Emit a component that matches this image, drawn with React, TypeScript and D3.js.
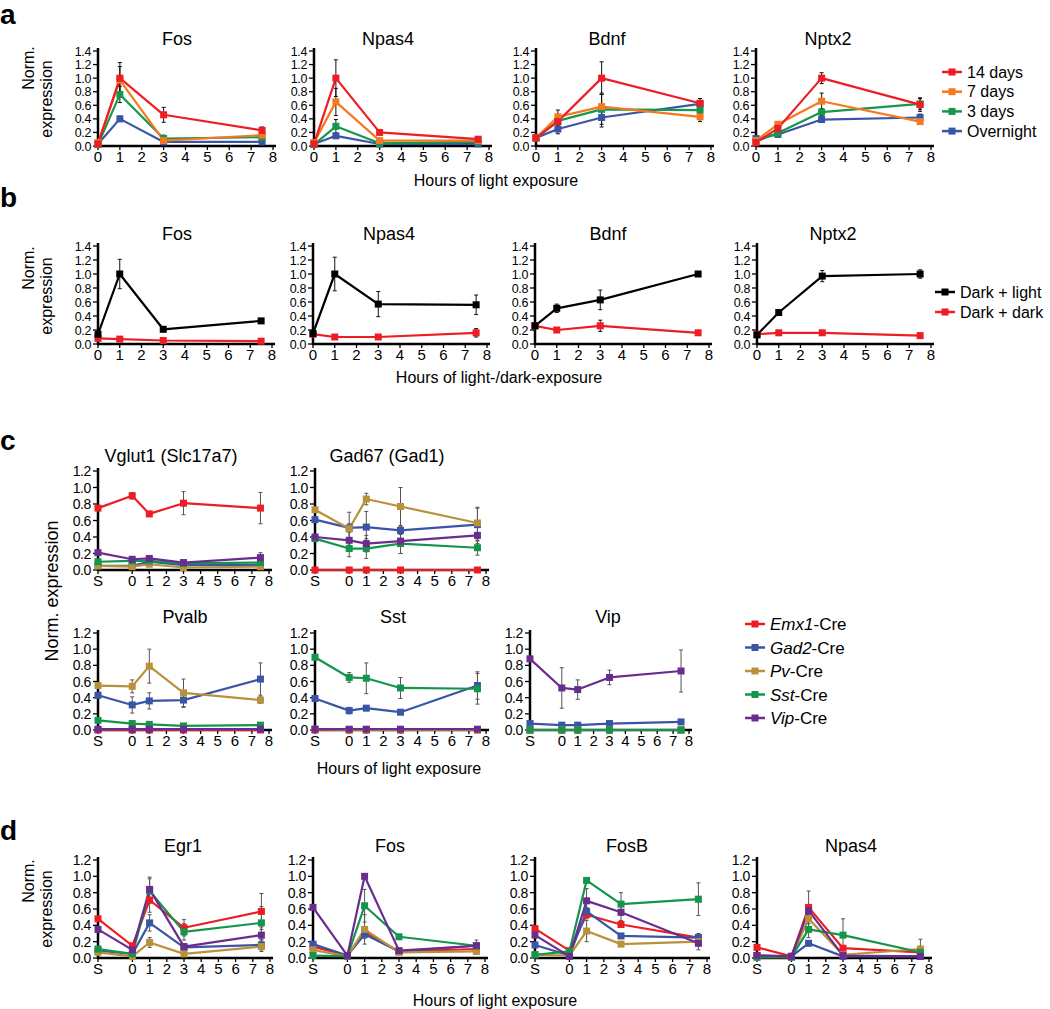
import React from "react";
import * as d3 from "d3";

const FONT = '"Liberation Sans", Arial, Helvetica, sans-serif';

// ---------- Panel a ----------
const hoursAB = [0, 1, 3, 7.5];
const seriesA = ["14 days", "7 days", "3 days", "Overnight"];
const colorsA = ["#ee1d23", "#f47920", "#16974a", "#3a55a5"];
const genesA = ["Fos", "Npas4", "Bdnf", "Nptx2"];
const aFos = [[0.03, 1.0, 0.46, 0.23], [0.05, 0.97, 0.08, 0.16], [0.02, 0.76, 0.11, 0.13], [0.03, 0.4, 0.06, 0.06]];
const aFosErr = [[0.01, 0.23, 0.11, 0.05], [0.01, 0.2, 0.04, 0.03], [0.01, 0.12, 0.05, 0.02], [0.01, 0.04, 0.01, 0.01]];
const aNpas4 = [[0.03, 1.0, 0.2, 0.1], [0.05, 0.65, 0.08, 0.08], [0.02, 0.29, 0.04, 0.06], [0.03, 0.15, 0.03, 0.03]];
const aNpas4Err = [[0.01, 0.27, 0.02, 0.02], [0.01, 0.2, 0.02, 0.02], [0.01, 0.1, 0.01, 0.01], [0.01, 0.03, 0.0, 0.0]];
const aBdnf = [[0.12, 0.36, 1.0, 0.63], [0.12, 0.43, 0.58, 0.43], [0.12, 0.37, 0.54, 0.53], [0.12, 0.25, 0.42, 0.62]];
const aBdnfErr = [[0.03, 0.05, 0.24, 0.07], [0.02, 0.1, 0.2, 0.07], [0.02, 0.06, 0.22, 0.05], [0.02, 0.07, 0.14, 0.05]];
const aNptx2 = [[0.05, 0.26, 1.0, 0.61], [0.08, 0.32, 0.66, 0.36], [0.07, 0.19, 0.5, 0.62], [0.11, 0.17, 0.39, 0.42]];
const aNptx2Err = [[0.03, 0.05, 0.08, 0.1], [0.03, 0.04, 0.12, 0.04], [0.02, 0.03, 0.05, 0.08], [0.02, 0.03, 0.03, 0.05]];

// ---------- Panel b ----------
const seriesB = ["Dark + light", "Dark + dark"];
const colorsB = ["#000000", "#ee1d23"];
const bFos = [[0.14, 1.0, 0.21, 0.33], [0.08, 0.07, 0.05, 0.04]];
const bFosErr = [[0.02, 0.21, 0.03, 0.03], [0.01, 0.01, 0.01, 0.01]];
const bNpas4 = [[0.15, 1.0, 0.57, 0.56], [0.14, 0.1, 0.1, 0.16]];
const bNpas4Err = [[0.02, 0.24, 0.18, 0.14], [0.01, 0.01, 0.01, 0.06]];
const bBdnf = [[0.26, 0.51, 0.63, 1.0], [0.26, 0.2, 0.26, 0.16]];
const bBdnfErr = [[0.03, 0.06, 0.14, 0.03], [0.02, 0.02, 0.08, 0.01]];
const bNptx2 = [[0.13, 0.45, 0.97, 1.0], [0.14, 0.16, 0.16, 0.12]];
const bNptx2Err = [[0.02, 0.03, 0.08, 0.06], [0.01, 0.01, 0.01, 0.01]];

// ---------- Panels c, d ----------
const hoursCD = [-2, 0, 1, 3, 7.5];
const creLines = ["Emx1", "Gad2", "Pv", "Sst", "Vip"];
const colorsCD = ["#ee1d23", "#3a55a5", "#b9913a", "#13954b", "#6a2c8e"];

const cVglut1 = [[0.75, 0.9, 0.68, 0.81, 0.75], [0.05, 0.05, 0.1, 0.06, 0.06], [0.05, 0.04, 0.07, 0.03, 0.04], [0.1, 0.11, 0.11, 0.08, 0.09], [0.21, 0.13, 0.14, 0.09, 0.15]];
const cVglut1Err = [[0.01, 0.04, 0.03, 0.14, 0.19], [0.01, 0.02, 0.02, 0.02, 0.02], [0.01, 0.02, 0.02, 0.01, 0.01], [0.01, 0.02, 0.02, 0.02, 0.02], [0.01, 0.02, 0.03, 0.02, 0.06]];
const cGad67 = [[0, 0, 0, 0, 0], [0.61, 0.51, 0.52, 0.48, 0.55], [0.73, 0.5, 0.86, 0.77, 0.57], [0.38, 0.26, 0.26, 0.32, 0.27], [0.4, 0.36, 0.32, 0.35, 0.42]];
const cGad67Err = [[0, 0, 0, 0, 0], [0.03, 0.05, 0.19, 0.05, 0.2], [0.03, 0.2, 0.07, 0.23, 0.19], [0.02, 0.1, 0.12, 0.12, 0.09], [0.02, 0.1, 0.1, 0.15, 0.1]];
const cPvalb = [[0, 0, 0, 0, 0], [0.43, 0.31, 0.36, 0.37, 0.63], [0.55, 0.54, 0.79, 0.46, 0.37], [0.12, 0.08, 0.07, 0.05, 0.06], [0.01, 0.01, 0.01, 0.01, 0.01]];
const cPvalbErr = [[0, 0, 0, 0, 0], [0.02, 0.1, 0.1, 0.09, 0.2], [0.02, 0.08, 0.21, 0.17, 0.04], [0.01, 0.01, 0.01, 0.01, 0.01], [0, 0, 0, 0, 0]];
const cSst = [[0, 0, 0, 0, 0], [0.39, 0.24, 0.27, 0.22, 0.55], [0.01, 0, 0, 0, 0], [0.9, 0.65, 0.64, 0.52, 0.51], [0.01, 0.01, 0.01, 0.01, 0.01]];
const cSstErr = [[0, 0, 0, 0, 0], [0.02, 0.04, 0.02, 0.02, 0.17], [0, 0, 0, 0, 0], [0.02, 0.06, 0.19, 0.13, 0.19], [0, 0, 0, 0, 0]];
const cVip = [[0, 0, 0, 0, 0], [0.08, 0.06, 0.06, 0.08, 0.1], [0, 0, 0, 0, 0], [0.0, 0.0, 0.0, 0.0, 0.0], [0.88, 0.52, 0.5, 0.65, 0.73]];
const cVipErr = [[0, 0, 0, 0, 0], [0.01, 0.01, 0.01, 0.01, 0.01], [0, 0, 0, 0, 0], [0, 0, 0, 0, 0], [0.02, 0.25, 0.12, 0.09, 0.26]];

const dEgr1 = [[0.48, 0.15, 0.71, 0.37, 0.57], [0.09, 0.05, 0.43, 0.13, 0.16], [0.07, 0.02, 0.19, 0.05, 0.14], [0.11, 0.05, 0.82, 0.32, 0.43], [0.35, 0.1, 0.84, 0.14, 0.28]];
const dEgr1Err = [[0.02, 0.02, 0.15, 0.1, 0.22], [0.01, 0.01, 0.1, 0.03, 0.06], [0.01, 0.01, 0.06, 0.01, 0.06], [0.01, 0.01, 0.15, 0.1, 0.2], [0.01, 0.01, 0.15, 0.03, 0.1]];
const dFos = [[0.14, 0.03, 0.32, 0.08, 0.11], [0.17, 0.03, 0.29, 0.08, 0.15], [0.1, 0.02, 0.35, 0.07, 0.08], [0.03, 0.02, 0.64, 0.26, 0.15], [0.62, 0.03, 1.0, 0.09, 0.15]];
const dFosErr = [[0.01, 0.01, 0.05, 0.01, 0.02], [0.01, 0.01, 0.05, 0.01, 0.02], [0.01, 0.01, 0.18, 0.01, 0.02], [0.01, 0.01, 0.2, 0.02, 0.07], [0.01, 0.01, 0.02, 0.01, 0.02]];
const dFosB = [[0.36, 0.09, 0.53, 0.41, 0.25], [0.16, 0.03, 0.57, 0.27, 0.25], [0.04, 0.03, 0.33, 0.17, 0.2], [0.04, 0.08, 0.95, 0.66, 0.72], [0.28, 0.02, 0.7, 0.56, 0.18]];
const dFosBErr = [[0.01, 0.01, 0.05, 0.03, 0.03], [0.01, 0.01, 0.05, 0.03, 0.05], [0.01, 0.01, 0.13, 0.02, 0.02], [0.01, 0.02, 0.02, 0.14, 0.2], [0.01, 0.01, 0.15, 0.1, 0.08]];
const dNpas4 = [[0.13, 0.02, 0.62, 0.12, 0.07], [0.03, 0.02, 0.18, 0.02, 0.02], [0.01, 0.01, 0.48, 0.04, 0.11], [0.01, 0.01, 0.35, 0.28, 0.07], [0.03, 0.02, 0.58, 0.03, 0.02]];
const dNpas4Err = [[0.01, 0.01, 0.2, 0.02, 0.02], [0.01, 0.01, 0.03, 0.01, 0.01], [0, 0, 0.15, 0.02, 0.12], [0, 0, 0.1, 0.2, 0.02], [0.01, 0.01, 0.05, 0.01, 0.01]];

// ---------- ticks ----------
const yTicks14 = [0, 0.2, 0.4, 0.6, 0.8, 1.0, 1.2, 1.4];
const yTicks12 = [0, 0.2, 0.4, 0.6, 0.8, 1.0, 1.2];
const xTicksAB = [0, 1, 2, 3, 4, 5, 6, 7, 8];
const xTicksCD = [-2, 0, 1, 2, 3, 4, 5, 6, 7, 8];
const xTickLabel = (v: number) => (v === -2 ? "S" : String(v));
const fmtY = d3.format(".1f");

type ChartProps = {
  x0: number;
  width: number;
  yBottom: number;
  yTop: number;
  yMax: number;
  xMin: number;
  xTicks: number[];
  yTicks: number[];
  yTickSize: number;
  title: string;
  titleX: number;
  titleY: number;
  xs: number[];
  values: number[][];
  errors: number[][];
  colors: string[];
  order: number[];
  errColor: string;
};

function Chart(p: ChartProps) {
  const x = d3.scaleLinear().domain([p.xMin, 8]).range([p.x0, p.x0 + p.width]);
  const y = d3.scaleLinear().domain([0, p.yMax]).range([p.yBottom, p.yTop]);
  const line = d3
    .line<number>()
    .x((_, i) => x(p.xs[i]))
    .y((d) => y(d));
  const ms = 7;
  return (
    <g>
      <text x={p.titleX} y={p.titleY} fontSize={18} textAnchor="middle" fill="#000">
        {p.title}
      </text>
      {/* y axis */}
      <line x1={p.x0} x2={p.x0} y1={p.yTop - 3} y2={p.yBottom + 1} stroke="#000" strokeWidth={2.5} />
      {p.yTicks.map((t) => (
        <g key={"yt" + t}>
          <line x1={p.x0 - 5} x2={p.x0} y1={y(t)} y2={y(t)} stroke="#000" strokeWidth={1.3} />
          <text x={p.x0 - 7} y={y(t)} dy="0.36em" fontSize={p.yTickSize} letterSpacing={-0.4} textAnchor="end" fill="#000">
            {fmtY(t)}
          </text>
        </g>
      ))}
      {/* x axis */}
      <line x1={p.x0 - 1} x2={x(8) + 3} y1={p.yBottom} y2={p.yBottom} stroke="#000" strokeWidth={2.5} />
      {p.xTicks.map((t) => (
        <g key={"xt" + t}>
          <line x1={x(t)} x2={x(t)} y1={p.yBottom} y2={p.yBottom + 4} stroke="#000" strokeWidth={1.3} />
          <text x={x(t)} y={p.yBottom + 16} fontSize={15} textAnchor="middle" fill="#000">
            {xTickLabel(t)}
          </text>
        </g>
      ))}
      {/* series lines */}
      {p.order.map((si) => (
        <path key={"l" + si} d={line(p.values[si]) || ""} fill="none" stroke={p.colors[si]} strokeWidth={2.2} strokeLinejoin="round" />
      ))}
      {/* error bars */}
      {p.order.map((si) =>
        p.values[si].map((v, i) => {
          const e = p.errors[si][i];
          if (!e || e < 0.015) return null;
          const cx = x(p.xs[i]);
          return (
            <g key={"e" + si + "-" + i} stroke={p.errColor} strokeWidth={1}>
              <line x1={cx} x2={cx} y1={y(v + e)} y2={y(Math.max(0, v - e))} />
              <line x1={cx - 2} x2={cx + 2} y1={y(v + e)} y2={y(v + e)} />
              <line x1={cx - 2} x2={cx + 2} y1={y(Math.max(0, v - e))} y2={y(Math.max(0, v - e))} />
            </g>
          );
        })
      )}
      {/* markers */}
      {p.order.map((si) =>
        p.values[si].map((v, i) => (
          <rect key={"m" + si + "-" + i} x={x(p.xs[i]) - ms / 2} y={y(v) - ms / 2} width={ms} height={ms} fill={p.colors[si]} />
        ))
      )}
    </g>
  );
}

function LegendRow({ x, y, color, children, fontSize }: { x: number; y: number; color: string; children: React.ReactNode; fontSize: number }) {
  return (
    <g>
      <line x1={x} x2={x + 20} y1={y} y2={y} stroke={color} strokeWidth={2.5} />
      <rect x={x + 6.5} y={y - 3.5} width={7} height={7} fill={color} />
      <text x={x + 25} y={y} dy="0.36em" fontSize={fontSize} fill="#000">
        {children}
      </text>
    </g>
  );
}

const panelA = [
  { x0: 98, tx: 177, vals: aFos, errs: aFosErr },
  { x0: 314, tx: 388, vals: aNpas4, errs: aNpas4Err },
  { x0: 536, tx: 607, vals: aBdnf, errs: aBdnfErr },
  { x0: 756, tx: 828, vals: aNptx2, errs: aNptx2Err },
];
const panelB = [
  { x0: 98, tx: 177, vals: bFos, errs: bFosErr },
  { x0: 313, tx: 389, vals: bNpas4, errs: bNpas4Err },
  { x0: 535, tx: 608, vals: bBdnf, errs: bBdnfErr },
  { x0: 757, tx: 833, vals: bNptx2, errs: bNptx2Err },
];
const panelCTop = [
  { x0: 98, w: 171, tx: 171, title: "Vglut1 (Slc17a7)", vals: cVglut1, errs: cVglut1Err },
  { x0: 315, w: 171, tx: 387, title: "Gad67 (Gad1)", vals: cGad67, errs: cGad67Err },
];
const panelCBottom = [
  { x0: 98, w: 171, tx: 185, title: "Pvalb", vals: cPvalb, errs: cPvalbErr },
  { x0: 315, w: 171, tx: 393, title: "Sst", vals: cSst, errs: cSstErr },
  { x0: 530, w: 159, tx: 608, title: "Vip", vals: cVip, errs: cVipErr },
];
const genesD = ["Egr1", "Fos", "FosB", "Npas4"];
const panelD = [
  { x0: 98, tx: 183, vals: dEgr1, errs: dEgr1Err },
  { x0: 313, tx: 390, vals: dFos, errs: dFosErr },
  { x0: 535, tx: 627, vals: dFosB, errs: dFosBErr },
  { x0: 757, tx: 851, vals: dNpas4, errs: dNpas4Err },
];

export default function App() {
  const orderA = [3, 2, 1, 0];
  const orderB = [1, 0];
  const orderCD = [0, 1, 2, 3, 4];
  return (
    <svg
      width={1050}
      height={1009}
      style={{ position: "absolute", left: 0, top: 0, background: "#fff" }}
      fontFamily={FONT}
    >
      <rect x={0} y={0} width={1050} height={1009} fill="#fff" />
      {/* panel letters */}
      <text x={0} y={24} fontSize={28} fontWeight="bold">a</text>
      <text x={0} y={207} fontSize={28} fontWeight="bold">b</text>
      <text x={0} y={450} fontSize={28} fontWeight="bold">c</text>
      <text x={0} y={840} fontSize={28} fontWeight="bold">d</text>

      {/* ---- panel a ---- */}
      <text transform="translate(28,68) rotate(-90)" fontSize={16} textAnchor="middle" dy="0.36em">Norm.</text>
      <text transform="translate(46,99) rotate(-90)" fontSize={16} textAnchor="middle" dy="0.36em">expression</text>
      {panelA.map((c, i) => (
        <Chart
          key={"a" + i}
          x0={c.x0}
          width={175}
          yBottom={146}
          yTop={51}
          yMax={1.4}
          xMin={0}
          xTicks={xTicksAB}
          yTicks={yTicks14}
          yTickSize={12.5}
          title={genesA[i]}
          titleX={c.tx}
          titleY={45}
          xs={hoursAB}
          values={c.vals}
          errors={c.errs}
          colors={colorsA}
          order={orderA}
          errColor="#111"
        />
      ))}
      <text x={496} y={186} fontSize={16} textAnchor="middle">Hours of light exposure</text>
      {seriesA.map((s, i) => (
        <LegendRow key={s} x={942} y={72 + i * 19.7} color={colorsA[i]} fontSize={16}>
          {s}
        </LegendRow>
      ))}

      {/* ---- panel b ---- */}
      <text transform="translate(28,268) rotate(-90)" fontSize={16} textAnchor="middle" dy="0.36em">Norm.</text>
      <text transform="translate(46,296) rotate(-90)" fontSize={16} textAnchor="middle" dy="0.36em">expression</text>
      {panelB.map((c, i) => (
        <Chart
          key={"b" + i}
          x0={c.x0}
          width={174}
          yBottom={344}
          yTop={246}
          yMax={1.4}
          xMin={0}
          xTicks={xTicksAB}
          yTicks={yTicks14}
          yTickSize={12.5}
          title={genesA[i]}
          titleX={c.tx}
          titleY={240}
          xs={hoursAB}
          values={c.vals}
          errors={c.errs}
          colors={colorsB}
          order={orderB}
          errColor="#111"
        />
      ))}
      <text x={499} y={383} fontSize={16} textAnchor="middle">Hours of light-/dark-exposure</text>
      {seriesB.map((s, i) => (
        <LegendRow key={s} x={935} y={292 + i * 20} color={colorsB[i]} fontSize={16}>
          {s}
        </LegendRow>
      ))}

      {/* ---- panel c ---- */}
      <text transform="translate(52,591) rotate(-90)" fontSize={18} textAnchor="middle" dy="0.36em">Norm. expression</text>
      {panelCTop.map((c, i) => (
        <Chart
          key={"ct" + i}
          x0={c.x0}
          width={c.w}
          yBottom={570}
          yTop={471}
          yMax={1.2}
          xMin={-2}
          xTicks={xTicksCD}
          yTicks={yTicks12}
          yTickSize={14}
          title={c.title}
          titleX={c.tx}
          titleY={462}
          xs={hoursCD}
          values={c.vals}
          errors={c.errs}
          colors={colorsCD}
          order={orderCD}
          errColor="#555"
        />
      ))}
      {panelCBottom.map((c, i) => (
        <Chart
          key={"cb" + i}
          x0={c.x0}
          width={c.w}
          yBottom={730}
          yTop={633}
          yMax={1.2}
          xMin={-2}
          xTicks={xTicksCD}
          yTicks={yTicks12}
          yTickSize={14}
          title={c.title}
          titleX={c.tx}
          titleY={623}
          xs={hoursCD}
          values={c.vals}
          errors={c.errs}
          colors={colorsCD}
          order={orderCD}
          errColor="#555"
        />
      ))}
      <text x={399} y={774} fontSize={16} textAnchor="middle">Hours of light exposure</text>
      {creLines.map((s, i) => (
        <LegendRow key={s} x={745} y={624 + i * 23.5} color={colorsCD[i]} fontSize={17}>
          <tspan fontStyle="italic">{s}</tspan>
          <tspan>-Cre</tspan>
        </LegendRow>
      ))}

      {/* ---- panel d ---- */}
      <text transform="translate(28,881) rotate(-90)" fontSize={16} textAnchor="middle" dy="0.36em">Norm.</text>
      <text transform="translate(46,909) rotate(-90)" fontSize={16} textAnchor="middle" dy="0.36em">expression</text>
      {panelD.map((c, i) => (
        <Chart
          key={"d" + i}
          x0={c.x0}
          width={172}
          yBottom={958}
          yTop={860}
          yMax={1.2}
          xMin={-2}
          xTicks={xTicksCD}
          yTicks={yTicks12}
          yTickSize={14}
          title={genesD[i]}
          titleX={c.tx}
          titleY={852}
          xs={hoursCD}
          values={c.vals}
          errors={c.errs}
          colors={colorsCD}
          order={orderCD}
          errColor="#555"
        />
      ))}
      <text x={495} y={1006} fontSize={16} textAnchor="middle">Hours of light exposure</text>
    </svg>
  );
}
